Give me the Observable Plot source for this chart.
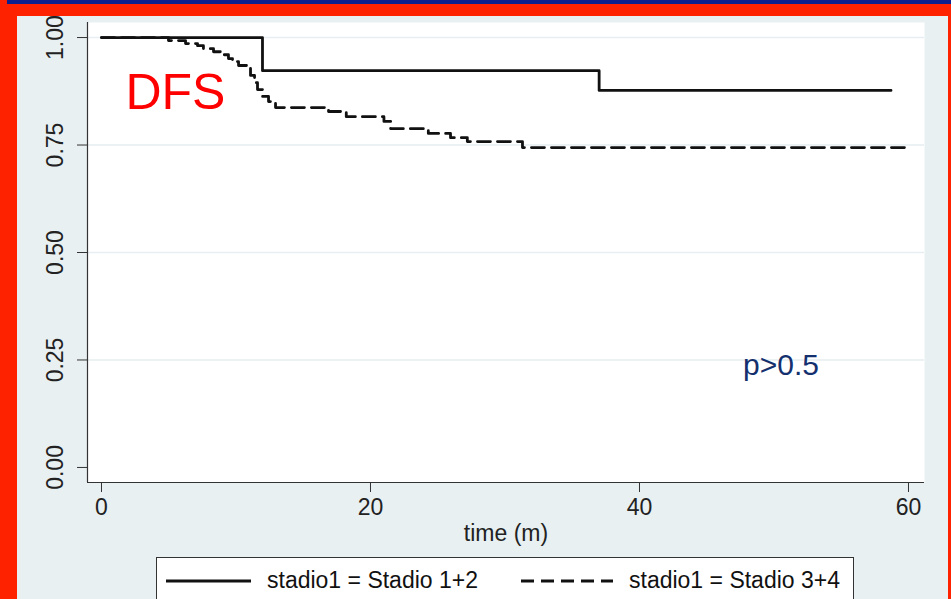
<!DOCTYPE html>
<html>
<head>
<meta charset="utf-8">
<script src="https://cdn.jsdelivr.net/npm/d3@7"></script>
<script src="https://cdn.jsdelivr.net/npm/@observablehq/plot@0.6"></script>
<style>
  html, body { margin: 0; padding: 0; }
  body { width: 951px; height: 599px; overflow: hidden; background: #ff2200; position: relative;
         font-family: "Liberation Sans", Arial, sans-serif; }
  #topband { position: absolute; left: 7px; top: 0; width: 944px; height: 4px; background: #0b1f8f; }
  #panel { position: absolute; left: 17px; top: 16px; width: 931px; height: 583px; background: #e8f0f2; }
  #chart { position: absolute; left: 0; top: 0; }
  #legend { position: absolute; left: 156px; top: 557px; width: 698px; height: 60px; background: #fff;
            border: 1px solid #333; box-sizing: border-box; }
  #legend .item { position: absolute; top: 9px; display: flex; align-items: center; font-size: 23px; color: #111; }
  #legend svg { display: block; }
</style>
</head>
<body>
<div id="topband"></div>
<div id="panel"></div>
<div id="chart"></div>
<div id="legend"></div>
<script>
// Kaplan–Meier disease-free survival by stage group (time in months)
const stageA = "stadio1 = Stadio 1+2";
const stageB = "stadio1 = Stadio 3+4";

const timesA = [0, 11.97, 37.0, 58.7];
const survA  = [1.0, 0.923, 0.877, 0.877];

const timesB = [0, 4.98, 6.25, 7.14, 7.58, 8.33, 9.0, 9.44, 9.74, 10.19, 10.78, 11.08, 11.38, 11.6, 11.97, 12.42, 12.94, 16.88, 18.2, 21.0, 21.5, 24.3, 25.95, 27.2, 31.3, 59.8];
const survB  = [1.0, 0.993, 0.986, 0.981, 0.974, 0.967, 0.960, 0.951, 0.944, 0.935, 0.928, 0.912, 0.895, 0.879, 0.863, 0.851, 0.837, 0.828, 0.816, 0.805, 0.788, 0.777, 0.767, 0.758, 0.744, 0.744];

const xTicks = [0, 20, 40, 60];
const yTicks = [0, 0.25, 0.5, 0.75, 1];
const yGrid = [0.25, 0.5, 0.75, 1];
const xLabel = "time (m)";
const plotTitle = "DFS";
const pNote = "p>0.5";

const rowsA = timesA.map((t, i) => ({t, s: survA[i]}));
const rowsB = timesB.map((t, i) => ({t, s: survB[i]}));

const xDomain = [-1.04, 61.19];
const yDomain = [-0.035, 1.035];
const font = "Liberation Sans, Arial, sans-serif";

const chart = Plot.plot({
  width: 951,
  height: 599,
  marginLeft: 87,
  marginRight: 27,
  marginTop: 22,
  marginBottom: 117,
  style: {background: "transparent", fontFamily: font, fontSize: "23px", color: "#222"},
  x: {domain: xDomain},
  y: {domain: yDomain},
  marks: [
    Plot.frame({fill: "white", stroke: null}),
    Plot.gridY(yGrid, {stroke: "#e6eef1", strokeOpacity: 1, strokeWidth: 1.5}),
    Plot.ruleX([xDomain[0]], {stroke: "#333", strokeWidth: 1.2}),
    Plot.ruleY([yDomain[0]], {stroke: "#333", strokeWidth: 1.2}),
    Plot.axisX(xTicks, {tickSize: 10, tickPadding: 6, stroke: "#333", fontSize: 23, label: null}),
    Plot.axisY(yTicks, {tickSize: 10, tickPadding: 15, tickRotate: -90, tickFormat: d3.format(".2f"), stroke: "#333", fontSize: 23, label: null}),
    Plot.text([xLabel], {frameAnchor: "bottom", dy: 58, fontSize: 23, fill: "#222", lineAnchor: "bottom"}),
    Plot.line(rowsA, {x: "t", y: "s", curve: "step-after", stroke: "#111", strokeWidth: 2.8}),
    Plot.line(rowsB, {x: "t", y: "s", curve: "step-after", stroke: "#111", strokeWidth: 2.8, strokeDasharray: "13,7"}),
    Plot.text([plotTitle], {x: 1.78, y: 0.833, text: d => d, textAnchor: "start", lineAnchor: "bottom", fontSize: 50, fill: "#ff0000"}),
    Plot.text([pNote], {x: 47.7, y: 0.214, text: d => d, textAnchor: "start", lineAnchor: "bottom", fontSize: 30, fill: "#15306e"})
  ]
});
document.getElementById("chart").append(chart);

// legend below the axis
const legend = document.getElementById("legend");
[[stageA, null, 9, 85], [stageB, "13,7", 364, 92]].forEach(([label, dash, left, len]) => {
  const item = document.createElement("div");
  item.className = "item";
  item.style.left = left + "px";
  const svg = d3.create("svg").attr("width", len + 16).attr("height", 26);
  svg.append("line").attr("x1", 0).attr("x2", len).attr("y1", 13).attr("y2", 13)
    .attr("stroke", "#111").attr("stroke-width", 2.8).attr("stroke-dasharray", dash);
  item.append(svg.node());
  const span = document.createElement("span");
  span.textContent = label;
  item.append(span);
  legend.append(item);
});
</script>
</body>
</html>
